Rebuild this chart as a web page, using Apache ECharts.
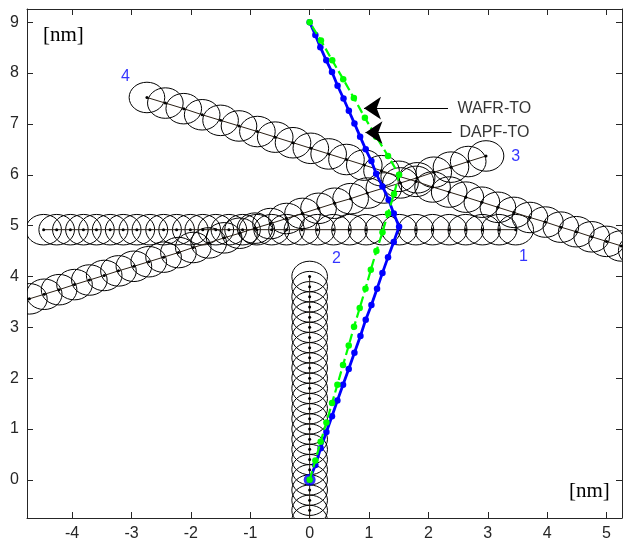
<!DOCTYPE html>
<html><head><meta charset="utf-8">
<script src="https://cdn.jsdelivr.net/npm/echarts@6/dist/echarts.min.js"></script>
<style>html,body{margin:0;padding:0;background:#fff}#c{width:631px;height:544px}</style>
</head><body><div id="c"></div>
<script>
// ---- tick labels ----
const xTicks = [-4, -3, -2, -1, 0, 1, 2, 3, 4, 5];
const yTicks = [0, 1, 2, 3, 4, 5, 6, 7, 8, 9];

// ---- separation radius around each aircraft position [nm] ----
const SEP_RADIUS = 0.3;

// ---- intruder tracks ----
const t1X = [3.47, 3.19, 2.91, 2.63, 2.35, 2.07, 1.79, 1.51, 1.23, 0.95, 0.67, 0.40, 0.13, -0.13, -0.39, -0.64, -0.89, -1.13, -1.36, -1.58, -1.80, -2.01, -2.24, -2.46, -2.69, -2.91, -3.14, -3.36, -3.59, -3.81, -4.03, -4.26, -4.48];
const t1Y = [4.92, 4.92, 4.92, 4.92, 4.92, 4.92, 4.92, 4.92, 4.92, 4.92, 4.92, 4.92, 4.92, 4.92, 4.92, 4.92, 4.92, 4.92, 4.92, 4.92, 4.92, 4.92, 4.92, 4.92, 4.92, 4.92, 4.92, 4.92, 4.92, 4.92, 4.92, 4.92, 4.92];

const t2X = [0, 0, 0, 0, 0, 0, 0, 0, 0, 0, 0, 0, 0, 0, 0, 0, 0, 0, 0, 0, 0, 0, 0, 0, 0];
const t2Y = [4.0, 3.8, 3.6, 3.4, 3.2, 3.0, 2.8, 2.6, 2.4, 2.2, 2.0, 1.8, 1.6, 1.4, 1.2, 1.0, 0.8, 0.6, 0.4, 0.2, 0.0, -0.2, -0.4, -0.6, -0.8];

const t3X = [2.97, 2.67, 2.38, 2.09, 1.81, 1.53, 1.25, 0.97, 0.69, 0.42, 0.15, -0.12, -0.39, -0.66, -0.92, -1.18, -1.44, -1.70, -1.96, -2.21, -2.46, -2.71, -2.96, -3.22, -3.46, -3.71, -3.96, -4.22, -4.47, -4.72];
const t3Y = [6.37, 6.26, 6.15, 6.05, 5.94, 5.84, 5.74, 5.64, 5.53, 5.44, 5.34, 5.24, 5.14, 5.04, 4.95, 4.85, 4.76, 4.66, 4.57, 4.47, 4.38, 4.29, 4.20, 4.11, 4.02, 3.93, 3.84, 3.74, 3.65, 3.56];

const t4X = [-2.74, -2.43, -2.12, -1.81, -1.50, -1.19, -0.88, -0.58, -0.28, 0.02, 0.32, 0.62, 0.92, 1.21, 1.50, 1.79, 2.07, 2.35, 2.63, 2.90, 3.17, 3.44, 3.71, 3.97, 4.23, 4.49, 4.75, 5.00, 5.25, 5.50];
const t4Y = [7.52, 7.41, 7.30, 7.18, 7.07, 6.96, 6.85, 6.74, 6.63, 6.52, 6.41, 6.30, 6.19, 6.08, 5.97, 5.87, 5.76, 5.66, 5.56, 5.46, 5.36, 5.26, 5.16, 5.07, 4.97, 4.88, 4.78, 4.69, 4.60, 4.51];

// ---- own-ship trajectories ----
const wafrX = [0, 0.096, 0.185, 0.282, 0.376, 0.467, 0.562, 0.658, 0.754, 0.855, 0.944, 1.04, 1.135, 1.226, 1.32, 1.416, 1.506, 1.416, 1.33, 1.226, 1.12, 1.04, 0.944, 0.85, 0.754, 0.66, 0.57, 0.47, 0.376, 0.28, 0.18, 0.096, 0];
const wafrY = [0, 0.29, 0.62, 0.94, 1.25, 1.56, 1.87, 2.18, 2.50, 2.83, 3.15, 3.44, 3.76, 4.07, 4.38, 4.68, 4.98, 5.24, 5.51, 5.77, 6.02, 6.27, 6.50, 6.75, 7.01, 7.26, 7.50, 7.75, 8.02, 8.25, 8.51, 8.75, 9.0];

const dapfX = [0, 0.096, 0.185, 0.282, 0.376, 0.467, 0.562, 0.658, 0.747, 0.843, 0.94, 1.03, 1.124, 1.226, 1.32, 1.42, 1.506, 1.32, 1.12, 0.93, 0.745, 0.565, 0.38, 0.19, 0];
const dapfY = [0, 0.38, 0.75, 1.13, 1.51, 1.87, 2.26, 2.64, 3.01, 3.38, 3.76, 4.13, 4.50, 4.87, 5.24, 5.62, 6.0, 6.37, 6.75, 7.12, 7.51, 7.88, 8.25, 8.64, 9.0];

// ---- annotations (data units) ----
const trackNames = ['1', '2', '3', '4'];
const trackNameX = [3.60, 0.45, 3.47, -3.10];
const trackNameY = [4.40, 4.36, 6.36, 7.93];

const annotText = ['WAFR-TO', 'DAPF-TO'];
const annotY = [7.31, 6.83];
const arrowTailX = [2.33, 2.39];
const arrowHeadX = [0.915, 0.94];
const annotTextX = [2.48, 2.515];

const zip = (xs, ys) => xs.map((x, i) => [x, ys[i]]);
const AXC = '#262626';
const SANS = '"Liberation Sans", Arial, sans-serif';

function circles(xs, ys) {
  return {
    type: 'custom', clip: true, silent: true, z: 2,
    data: zip(xs, ys),
    renderItem: function (params, api) {
      const c = api.coord([api.value(0), api.value(1)]);
      const s = api.size([SEP_RADIUS, SEP_RADIUS]);
      return { type: 'ellipse', shape: { cx: c[0], cy: c[1], rx: s[0], ry: s[1] },
               style: { fill: 'none', stroke: '#000', lineWidth: 1 } };
    }
  };
}
function track(xs, ys) {
  return {
    type: 'line', data: zip(xs, ys), z: 3, silent: true, showAllSymbol: true,
    symbol: 'circle', symbolSize: 3,
    itemStyle: { color: '#000' },
    lineStyle: { color: '#2a1f14', width: 1 }
  };
}

const xBase = { type: 'value', min: -4.76, max: 5.26, splitLine: { show: false } };
const yBase = { type: 'value', min: -0.75, max: 9.26, splitLine: { show: false } };

const option = {
  animation: false,
  backgroundColor: '#fff',
  grid: { left: 27, right: 9, top: 9, bottom: 26 },
  xAxis: [
    Object.assign({}, xBase, { position: 'bottom',
      axisLine: { onZero: false, lineStyle: { color: AXC, width: 1 } },
      axisTick: { inside: true, length: 6, customValues: xTicks, lineStyle: { color: AXC } },
      axisLabel: { customValues: xTicks, color: AXC, fontSize: 16, fontFamily: SANS, margin: 8 } }),
    Object.assign({}, xBase, { position: 'top',
      axisLine: { onZero: false, lineStyle: { color: AXC, width: 1 } },
      axisTick: { inside: true, length: 6, customValues: xTicks, lineStyle: { color: AXC } },
      axisLabel: { show: false } })
  ],
  yAxis: [
    Object.assign({}, yBase, { position: 'left',
      axisLine: { onZero: false, lineStyle: { color: AXC, width: 1 } },
      axisTick: { inside: true, length: 6, customValues: yTicks, lineStyle: { color: AXC } },
      axisLabel: { customValues: yTicks, color: AXC, fontSize: 16, fontFamily: SANS, margin: 8 } }),
    Object.assign({}, yBase, { position: 'right',
      axisLine: { onZero: false, lineStyle: { color: AXC, width: 1 } },
      axisTick: { inside: true, length: 6, customValues: yTicks, lineStyle: { color: AXC } },
      axisLabel: { show: false } })
  ],
  graphic: [
    { type: 'text', left: 43, top: 25, z: 20,
      style: { text: '[nm]', font: '21px "Liberation Serif", "Times New Roman", serif', fill: '#000' } },
    { type: 'text', left: 569, top: 481, z: 20,
      style: { text: '[nm]', font: '21px "Liberation Serif", "Times New Roman", serif', fill: '#000' } }
  ],
  series: [
    circles(t1X, t1Y), circles(t2X, t2Y), circles(t3X, t3Y), circles(t4X, t4Y),
    track(t1X, t1Y), track(t2X, t2Y), track(t3X, t3Y), track(t4X, t4Y),
    {
      name: 'WAFR-TO', type: 'line', data: zip(wafrX, wafrY), z: 5, showAllSymbol: true,
      symbol: 'circle', symbolSize: 6.5,
      itemStyle: { color: '#0000ff' },
      lineStyle: { color: '#0000ff', width: 2.8 }
    },
    {
      type: 'scatter', data: [[wafrX[0], wafrY[0]]], z: 6, symbol: 'circle', symbolSize: 12,
      itemStyle: { color: '#0000ff' }
    },
    {
      name: 'DAPF-TO', type: 'line', data: zip(dapfX, dapfY), z: 7, showAllSymbol: true,
      symbol: 'circle', symbolSize: 6.5,
      itemStyle: { color: '#00ff00' },
      lineStyle: { color: '#00ff00', width: 2.2, type: [9, 4] }
    },
    {
      type: 'lines', coordinateSystem: 'cartesian2d', z: 10, silent: true,
      symbol: ['none', 'arrow'], symbolSize: [12, 17],
      lineStyle: { color: '#000', width: 1, opacity: 1, curveness: 0 },
      data: annotY.map((y, i) => ({ coords: [[arrowTailX[i], y], [arrowHeadX[i], y]] }))
    },
    {
      type: 'scatter', z: 11, silent: true, symbolSize: 1,
      itemStyle: { color: 'rgba(0,0,0,0)' },
      data: zip(annotTextX, annotY),
      label: { show: true, position: 'right', distance: 0, color: '#000', fontSize: 16, fontFamily: SANS,
               formatter: p => annotText[p.dataIndex] }
    },
    {
      type: 'scatter', z: 11, silent: true, symbolSize: 1,
      itemStyle: { color: 'rgba(0,0,0,0)' },
      data: zip(trackNameX, trackNameY),
      label: { show: true, position: 'inside', color: '#0000ff', fontSize: 16, fontFamily: SANS,
               formatter: p => trackNames[p.dataIndex] }
    }
  ]
};
echarts.init(document.getElementById('c'), null, { renderer: 'canvas' }).setOption(option);
</script>
</body></html>
